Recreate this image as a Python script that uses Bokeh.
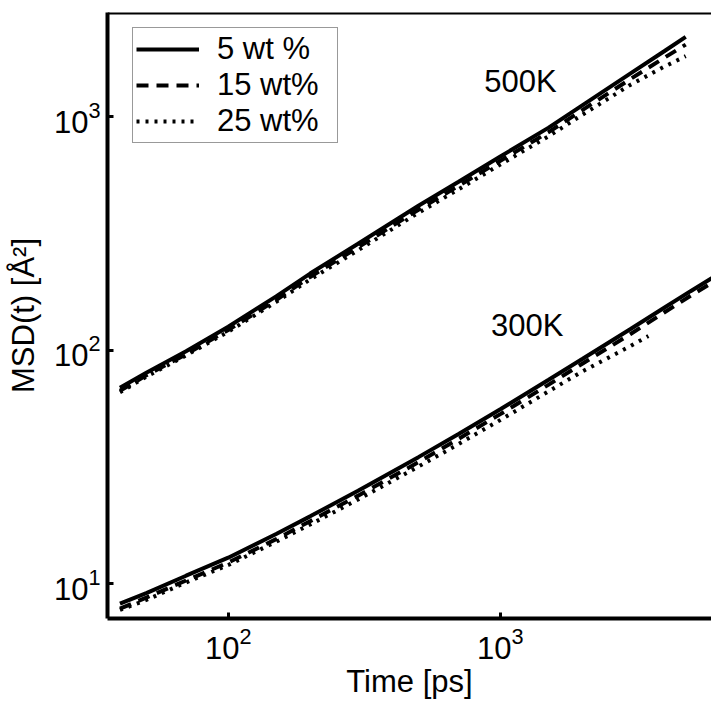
from bokeh.plotting import figure
from bokeh.models import Legend, LegendItem, Span, Label, FixedTicker
from bokeh.embed import file_html
from bokeh.resources import INLINE

# ---- data ----
t_500 = [40, 50, 70, 100, 150, 200, 300, 500, 700, 1000, 1500, 2000, 3000, 4000, 4800]
msd_500_5 = [69, 80, 99, 126, 170, 213, 286, 416, 526, 676, 897, 1120, 1531, 1910, 2200]
msd_500_15 = [67, 78, 96, 122, 164, 206, 276, 400, 505, 648, 858, 1068, 1450, 1790, 2040]
msd_500_25 = [66, 77, 95, 120, 161, 201, 268, 388, 488, 625, 824, 1020, 1370, 1640, 1820]

t_300 = [40, 50, 70, 100, 150, 200, 300, 500, 700, 1000, 1500, 2000, 3000, 4000, 5000, 6500]
msd_300_5 = [8.2, 9.1, 10.8, 12.9, 16.3, 19.4, 25.0, 34.8, 43.6, 55.8, 74.5, 91.6, 123, 152, 179, 216]
msd_300_15 = [7.8, 8.7, 10.3, 12.3, 15.5, 18.5, 23.8, 33.1, 41.6, 53.2, 71.0, 87.5, 117, 145, 171, 206]
t_300_25 = [40, 50, 70, 100, 150, 200, 300, 500, 700, 1000, 1500, 2000, 3000, 3500]
msd_300_25 = [7.7, 8.5, 10.1, 12.0, 15.1, 17.9, 22.9, 31.7, 39.5, 50.2, 66.5, 81.0, 104, 115]

series_labels = ["5 wt %", "15 wt%", "25 wt%"]
x_ticks = [100, 1000]
y_ticks = [10, 100, 1000]
X_START, X_END = 36, 5970
Y_START, Y_END = 7.08, 2800

FONT = "Liberation Sans"
FS = "31px"

p = figure(width=711, height=702, x_axis_type="log", y_axis_type="log",
           x_range=(X_START, X_END), y_range=(Y_START, Y_END),
           output_backend="svg", toolbar_location=None,
           min_border_left=107, min_border_right=0, min_border_top=12, min_border_bottom=84)

p.background_fill_color = "white"
p.border_fill_color = "white"
p.outline_line_color = None
p.xgrid.visible = False
p.ygrid.visible = False

dashes = ["solid", "12 8", "3 6"]

def add(t, y, dash):
    return p.line(t, y, line_color="black", line_width=4, line_dash=dash)

r1 = add(t_500, msd_500_5, dashes[0])
r2 = add(t_500, msd_500_15, dashes[1])
r3 = add(t_500, msd_500_25, dashes[2])
add(t_300, msd_300_5, dashes[0])
add(t_300, msd_300_15, dashes[1])
add(t_300_25, msd_300_25, dashes[2])

for ax in (p.xaxis[0], p.yaxis[0]):
    ax.axis_line_width = 4
    ax.axis_line_color = "black"
    ax.major_tick_in = 6
    ax.major_tick_out = 0
    ax.major_tick_line_width = 3
    ax.minor_tick_line_color = None
    ax.major_label_text_font = FONT
    ax.major_label_text_font_size = FS
    ax.major_label_text_color = "black"
    ax.axis_label_text_font = FONT
    ax.axis_label_text_font_size = FS
    ax.axis_label_text_font_style = "normal"
    ax.axis_label_text_color = "black"

p.xaxis.ticker = FixedTicker(ticks=x_ticks)
p.yaxis.ticker = FixedTicker(ticks=y_ticks)
p.xaxis.axis_label = "Time [ps]"
p.yaxis.axis_label = "MSD(t) [Å²]"
p.xaxis.major_label_standoff = 8
p.yaxis.major_label_standoff = 7
p.xaxis.axis_label_standoff = 2
p.yaxis.axis_label_standoff = 10

p.add_layout(Span(location=Y_END, dimension="width", line_color="black", line_width=4))

p.add_layout(Label(x=1186, y=1413, text="500K", text_font=FONT, text_font_size=FS,
                   text_color="black", text_align="center", text_baseline="middle"))
p.add_layout(Label(x=1256, y=128, text="300K", text_font=FONT, text_font_size=FS,
                   text_color="black", text_align="center", text_baseline="middle"))

legend = Legend(items=[LegendItem(label=series_labels[0], renderers=[r1]),
                       LegendItem(label=series_labels[1], renderers=[r2]),
                       LegendItem(label=series_labels[2], renderers=[r3])],
                location=(25, 475), orientation="vertical",
                label_text_font=FONT, label_text_font_size=FS, label_text_color="black",
                glyph_width=63, glyph_height=30, label_height=30, spacing=0,
                padding=3, margin=0, label_standoff=18, label_width=117,
                border_line_color="#333333", border_line_width=1,
                background_fill_color="white", background_fill_alpha=1)
p.add_layout(legend)

open("out.html", "w").write(file_html(p, INLINE))
